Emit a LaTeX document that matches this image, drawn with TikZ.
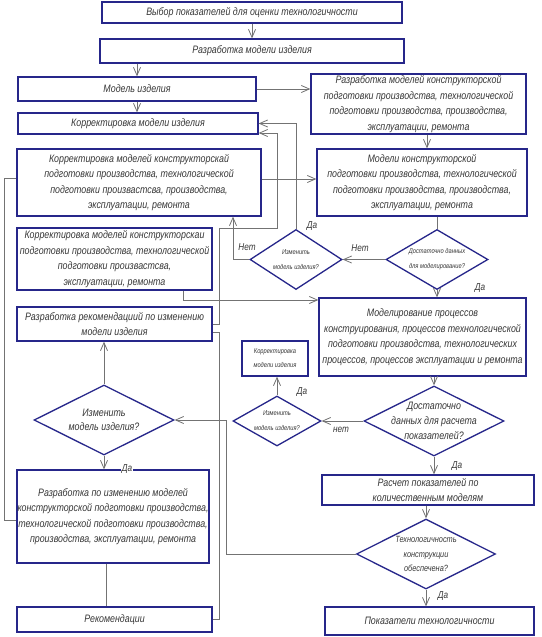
\documentclass[tikz,border=0pt]{standalone}
\usepackage{fontspec}
\newfontfamily\gost{Liberation Sans}[FakeStretch=0.82]
\usetikzlibrary{arrows.meta,shapes.geometric}
\definecolor{bordc}{RGB}{38,38,138}
\definecolor{linec}{RGB}{115,115,115}
\definecolor{txtc}{RGB}{55,55,55}
\begin{document}
\begin{tikzpicture}[x=1pt,y=-1pt,
  box/.style={draw=bordc, line width=1.3pt, fill=white, rectangle, inner xsep=0pt, inner ysep=0pt,
    align=center, text=txtc, font=\gost\itshape\fontsize{10.8}{15.5}\selectfont},
  dia/.style={draw=bordc, line width=1.3pt, fill=white, diamond, inner sep=0pt},
  dtext/.style={text=txtc, align=center, inner sep=0pt, font=\gost\itshape\fontsize{10.8}{14.5}\selectfont},
  stext/.style={text=txtc, align=center, inner sep=0pt, font=\gost\itshape\fontsize{7}{15}\selectfont},
  lab/.style={text=txtc, inner sep=1pt, font=\gost\itshape\fontsize{10}{12}\selectfont},
  line/.style={draw=linec, line width=0.8pt},
  arr/.style={line, -{Straight Barb[length=8pt,width=7pt,line width=0.8pt]}}
]
\fill[white] (0,0) rectangle (541,637);
\useasboundingbox (0,0) rectangle (541,637);

% boxes
\node[box, minimum width=300, minimum height=21] (b1) at (252,12.5) {Выбор показателей для оценки технологичности};
\node[box, minimum width=304, minimum height=24] (b2) at (252,51) {Разработка модели изделия};
\node[box, minimum width=238, minimum height=24] (b3) at (137,89) {Модель изделия};
\node[box, minimum width=215, minimum height=60] (b4) at (418.5,104) {Разработка моделей конструкторской\\подготовки производства, технологической\\подготовки производства, производства,\\эксплуатации, ремонта};
\node[box, minimum width=240, minimum height=21] (b5) at (138,123.5) {Корректировка модели изделия};
\node[box, minimum width=244, minimum height=67] (b6) at (139,182.5) {Корректировка моделей конструкторскай\\подготовки производства, технологической\\подготовки произвастсва, производства,\\эксплуатации, ремонта};
\node[box, minimum width=210, minimum height=67] (b8) at (422,182.5) {Модели конструкторской\\подготовки производства, технологической\\подготовки производства, производства,\\эксплуатации, ремонта};
\node[box, minimum width=195, minimum height=62] (b7) at (114.5,259) {Корректировка моделей конструкторскаи\\подготовки производства, технологической\\подготовки произвастсва,\\эксплуатации, ремонта};
\node[box, minimum width=195, minimum height=34] (brec) at (114.5,324) {Разработка рекомендациий по изменению\\модели изделия};
\node[box, minimum width=207, minimum height=78] (b10) at (422.5,337) {Моделирование процессов\\конструирования, процессов технологической\\подготовки производства, технологических\\процессов, процессов эксплуатации и ремонта};
\node[box, minimum width=66, minimum height=35, font=\gost\itshape\fontsize{7}{14}\selectfont] (bsm) at (275,358.5) {Корректировка\\модели изделия};
\node[box, minimum width=192, minimum height=93] (bdev) at (113,516.5) {Разработка по изменению моделей\\конструкторской подготовки производства,\\технологической подготовки производства,\\производства, эксплуатации, ремонта};
\node[box, minimum width=195, minimum height=25] (brek) at (114.5,619.5) {Рекомендации};
\node[box, minimum width=212, minimum height=30, font=\gost\itshape\fontsize{10.8}{15}\selectfont] (b11) at (428,490) {Расчет показателей по\\количественным моделям};
\node[box, minimum width=209, minimum height=28] (bfin) at (429.5,621) {Показатели технологичности};

% diamonds
\node[dia, minimum width=92, minimum height=60, label={[stext]center:{Изменить\\модель изделия?}}] (d1) at (296,259.5) {};
\node[dia, minimum width=102, minimum height=60, label={[stext]center:{Достаточно данных\\для моделирование?}}] (d2) at (437,259.5) {};
\node[dia, minimum width=140, minimum height=70, label={[dtext]center:{Изменить\\модель изделия?}}] (d3) at (104,420) {};
\node[dia, minimum width=88, minimum height=50, label={[stext]center:{Изменить\\модель изделия?}}] (d6) at (277,421) {};
\node[dia, minimum width=140, minimum height=70, label={[dtext, font=\gost\itshape\fontsize{10.8}{15}\selectfont]center:{Достаточно\\данных для расчета\\показателей?}}] (d5) at (434,421) {};
\node[dia, minimum width=139, minimum height=70, label={[dtext, font=\gost\itshape\fontsize{9}{14.5}\selectfont]center:{Технологичность\\конструкции\\обеспечена?}}] (d4) at (426,554) {};

% connectors
\draw[arr] (b1.south) -- (b2.north);
\draw[arr] (b3.north |- b2.south) -- (b3.north);
\draw[arr] (b3.east) -- (b3.east -| b4.west);
\draw[arr] (b3.south) -- (b3.south |- b5.north);
\draw[arr] (b4.south -| 427,0) -- (b8.north -| 427,0);
\draw[arr] (b6.east |- 0,179) -- (b8.west |- 0,179);
\draw[line] (b8.south -| d2.north) -- (d2.north);
\draw[arr] (d2.west) -- (d1.east);
\draw[arr] (d2.south) -- (d2.south |- b10.north);
\draw[arr] (d1.north) |- (b5.east);
\draw[arr] (d1.west) -| (b6.south -| 233,0);
\draw[arr] (brec.east) -| (219,228) -| (277,133) -- (b5.east |- 0,133);
\draw[line] (brek.east) -| (219,332) -- (brec.east |- 0,332);
\draw[arr] (b7.south -| 183,0) |- (b10.west |- 0,300);
\draw[line] (b6.west |- 0,178) -| (4,520) -- (bdev.west |- 0,520);
\draw[arr] (d3.north) -- (d3.north |- brec.south);
\draw[arr] (d3.south) -- (d3.south |- bdev.north);
\draw[line] (bdev.south -| 106,0) -- (brek.north -| 106,0);
\draw[arr] (d4.west) -- (d4.west -| 226,0) |- (d3.east);
\draw[arr] (b10.south -| d5.north) -- (d5.north);
\draw[arr] (d5.west) -- (d6.east);
\draw[arr] (d6.north) -- (d6.north |- bsm.south);
\draw[arr] (d5.south) -- (d5.south |- b11.north);
\draw[arr] (d4.north |- b11.south) -- (d4.north);
\draw[arr] (d4.south) -- (d4.south |- bfin.north);

% labels
\node[lab] (l1) at (312,226) {Да};
\node[lab] (l2) at (247,247) {Нет};
\node[lab] (l3) at (360,248) {Нет};
\node[lab] (l4) at (480,288) {Да};
\node[lab] (l5) at (302,392) {Да};
\node[lab] (l6) at (341,430) {нет};
\node[lab] (l7) at (457,466) {Да};
\node[lab, fill=white] (l8) at (127,469) {Да};
\node[lab] (l9) at (443,596) {Да};
\end{tikzpicture}
\end{document}
